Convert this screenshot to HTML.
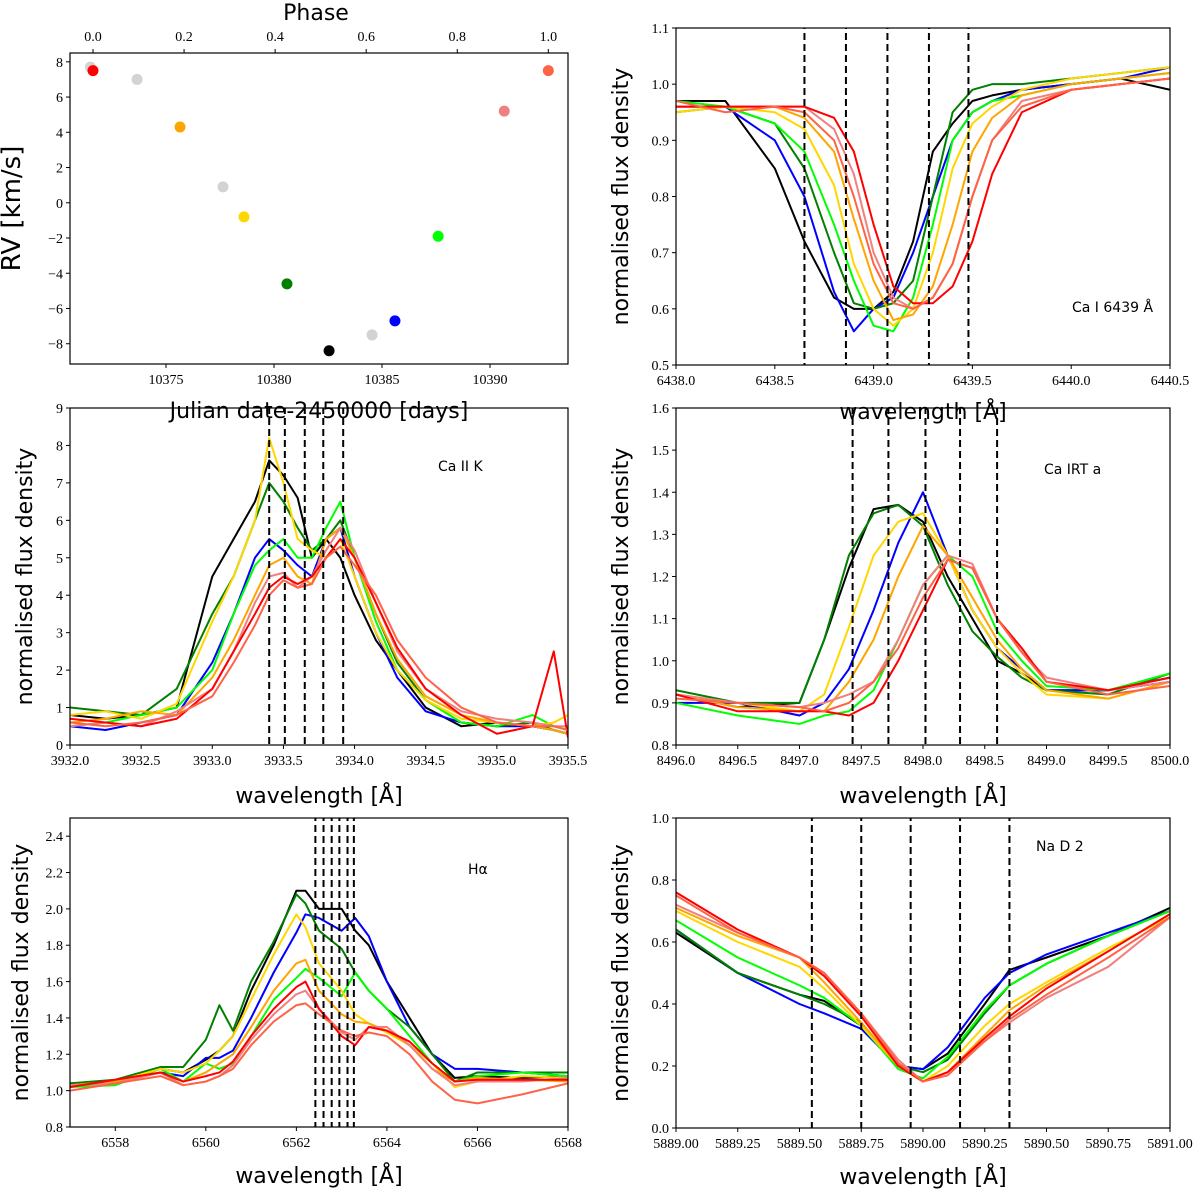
<!DOCTYPE html>
<html><head><meta charset="utf-8"><style>
body{margin:0;background:#fff}
.tk{font-family:"Liberation Serif",serif;font-size:14px}
.lab{font-family:"DejaVu Sans","Liberation Sans",sans-serif;font-size:22px}
.ann{font-family:"DejaVu Sans","Liberation Sans",sans-serif;font-size:14px}
</style></head><body>
<svg id="fig" width="1200" height="1192" xmlns="http://www.w3.org/2000/svg"></svg>
<script>
// ---- RV panel data ----
const rvDays=[10371.5,10371.62,10373.66,10375.65,10377.64,10378.61,10380.6,10382.55,10384.54,10385.6,10387.6,10390.66,10392.7];
const rvVals=[7.7,7.5,7.0,4.3,0.9,-0.8,-4.6,-8.4,-7.5,-6.7,-1.9,5.2,7.5];
const rvColors=["#d3d3d3","red","#d3d3d3","orange","#d3d3d3","gold","green","black","#d3d3d3","blue","lime","lightcoral","tomato"];
const seriesColors=["black","blue","green","lime","gold","orange","lightcoral","red","tomato"];
// ---- Ca I 6439 ----
const caIx=[6438.0,6438.25,6438.5,6438.65,6438.8,6438.9,6439.0,6439.1,6439.2,6439.3,6439.4,6439.5,6439.6,6439.75,6440.0,6440.25,6440.5];
const caIy=[
[.97,.97,.85,.72,.62,.60,.60,.63,.72,.88,.93,.97,.98,.99,1.0,1.01,.99],
[.96,.96,.90,.80,.63,.56,.60,.62,.70,.80,.90,.95,.97,.99,1.0,1.01,1.03],
[.95,.96,.93,.85,.70,.61,.60,.61,.65,.80,.95,.99,1.0,1.0,1.01,1.02,1.03],
[.97,.96,.93,.88,.75,.65,.57,.56,.62,.75,.90,.95,.97,.98,1.0,1.01,1.02],
[.95,.96,.95,.92,.82,.68,.60,.57,.60,.70,.85,.93,.96,.99,1.01,1.02,1.03],
[.96,.96,.96,.94,.88,.76,.65,.58,.59,.64,.75,.88,.94,.98,1.0,1.01,1.02],
[.96,.96,.96,.96,.92,.84,.70,.62,.60,.62,.68,.80,.90,.97,.99,1.0,1.01],
[.96,.96,.96,.96,.94,.88,.75,.64,.61,.61,.64,.72,.84,.95,.99,1.0,1.01],
[.97,.95,.96,.95,.90,.80,.68,.61,.60,.62,.68,.80,.90,.96,.99,1.0,1.01]];
const caIdash=[6438.65,6438.86,6439.07,6439.28,6439.48];
// ---- Ca II K ----
const caKx=[3932.0,3932.25,3932.5,3932.75,3933.0,3933.15,3933.3,3933.4,3933.5,3933.6,3933.7,3933.8,3933.9,3934.0,3934.15,3934.3,3934.5,3934.75,3935.0,3935.25,3935.4,3935.5];
const caKy=[
[0.8,0.7,0.8,1.0,4.5,5.5,6.5,7.6,7.2,6.6,5.0,5.5,5.0,4.0,2.8,2.0,1.0,0.5,0.6,0.5,0.4,0.3],
[0.5,0.4,0.6,0.8,2.2,3.5,5.0,5.5,5.2,4.8,4.5,5.5,5.8,4.5,3.0,1.8,0.9,0.6,0.5,0.5,0.4,0.3],
[1.0,0.9,0.8,1.5,3.5,4.5,6.0,7.0,6.5,5.8,5.2,5.5,6.0,5.0,3.5,2.2,1.2,0.6,0.5,0.6,0.4,0.3],
[0.5,0.6,0.8,1.0,2.0,3.5,4.8,5.2,5.5,5.0,5.0,5.8,6.5,5.0,3.3,2.0,1.2,0.6,0.5,0.8,0.5,0.4],
[0.8,0.9,0.7,1.1,3.3,4.5,6.0,8.2,7.0,5.5,5.2,5.0,5.5,4.5,3.0,2.0,1.2,0.7,0.6,0.5,0.6,0.8],
[0.6,0.7,0.9,0.8,1.8,2.8,4.0,4.8,5.0,4.5,4.3,5.5,5.8,5.0,3.5,2.3,1.3,0.8,0.6,0.5,0.4,0.3],
[0.5,0.6,0.5,0.9,1.5,2.5,3.8,4.5,4.6,4.2,4.5,5.2,5.8,5.2,3.8,2.5,1.5,0.9,0.7,0.6,0.5,0.5],
[0.7,0.6,0.5,0.7,1.5,2.5,3.5,4.2,4.5,4.3,4.5,5.0,5.5,5.0,3.8,2.6,1.5,0.8,0.3,0.5,2.5,0.2],
[0.6,0.5,0.6,0.8,1.3,2.2,3.2,4.0,4.4,4.2,4.3,5.0,5.3,4.8,4.0,2.8,1.8,1.0,0.6,0.5,0.5,0.4]];
const caKdash=[3933.4,3933.51,3933.65,3933.78,3933.92];
// ---- Ca IRT a ----
const irtx=[8496,8496.5,8497.0,8497.2,8497.4,8497.6,8497.8,8498.0,8498.2,8498.4,8498.6,8498.8,8499.0,8499.5,8500];
const irty=[
[.92,.89,.90,1.05,1.22,1.36,1.37,1.33,1.20,1.10,1.00,.97,.93,.93,.96],
[.90,.90,.87,.90,.98,1.12,1.28,1.40,1.25,1.12,1.03,.98,.93,.93,.95],
[.93,.90,.90,1.05,1.25,1.35,1.37,1.32,1.18,1.07,1.01,.96,.93,.92,.97],
[.90,.87,.85,.87,.88,.93,1.05,1.18,1.25,1.20,1.07,1.00,.94,.93,.97],
[.92,.90,.88,.92,1.08,1.25,1.33,1.35,1.25,1.12,1.03,.97,.92,.91,.95],
[.92,.89,.88,.88,.95,1.05,1.20,1.32,1.25,1.15,1.05,.98,.93,.91,.95],
[.92,.90,.89,.90,.92,.95,1.05,1.18,1.25,1.23,1.10,1.02,.96,.93,.95],
[.92,.88,.88,.88,.87,.90,1.00,1.12,1.24,1.22,1.10,1.03,.95,.93,.96],
[.91,.90,.89,.88,.90,.95,1.03,1.15,1.24,1.22,1.10,1.02,.95,.92,.94]];
const irtdash=[8497.43,8497.72,8498.02,8498.3,8498.6];
// ---- H alpha ----
const hax=[6557,6558,6559,6559.5,6560,6560.3,6560.6,6561,6561.5,6562,6562.2,6562.5,6563,6563.3,6563.6,6564,6564.5,6565,6565.5,6566,6567,6568];
const hay=[
[1.03,1.05,1.12,1.10,1.17,1.22,1.30,1.55,1.80,2.10,2.10,2.00,2.00,1.88,1.80,1.60,1.40,1.20,1.07,1.08,1.07,1.08],
[1.04,1.05,1.10,1.08,1.18,1.18,1.22,1.40,1.65,1.87,1.97,1.95,1.88,1.95,1.85,1.60,1.35,1.20,1.12,1.12,1.10,1.08],
[1.04,1.06,1.13,1.13,1.28,1.47,1.33,1.60,1.82,2.08,2.03,1.88,1.78,1.65,1.55,1.45,1.35,1.20,1.05,1.10,1.10,1.10],
[1.02,1.03,1.12,1.05,1.15,1.12,1.15,1.30,1.50,1.62,1.67,1.62,1.52,1.65,1.55,1.45,1.30,1.15,1.05,1.08,1.10,1.08],
[1.03,1.05,1.12,1.10,1.15,1.22,1.30,1.50,1.75,1.97,1.90,1.70,1.55,1.42,1.37,1.32,1.25,1.15,1.02,1.05,1.08,1.07],
[1.03,1.05,1.10,1.05,1.10,1.15,1.20,1.35,1.55,1.70,1.72,1.55,1.42,1.38,1.37,1.33,1.25,1.12,1.05,1.07,1.06,1.05],
[1.03,1.04,1.10,1.03,1.05,1.08,1.14,1.28,1.42,1.53,1.55,1.45,1.32,1.28,1.35,1.35,1.25,1.12,1.03,1.05,1.05,1.07],
[1.02,1.06,1.10,1.05,1.08,1.10,1.16,1.30,1.45,1.57,1.60,1.45,1.30,1.25,1.35,1.33,1.27,1.15,1.05,1.06,1.06,1.06],
[1.00,1.04,1.08,1.03,1.05,1.08,1.12,1.25,1.38,1.47,1.48,1.42,1.33,1.30,1.32,1.30,1.20,1.05,0.95,0.93,0.98,1.04]];
const hadash=[6562.42,6562.6,6562.78,6562.95,6563.13,6563.27];
// ---- Na D2 ----
const nax=[5889.0,5889.25,5889.5,5889.6,5889.75,5889.9,5890.0,5890.1,5890.25,5890.35,5890.5,5890.75,5891.0];
const nay=[
[.63,.50,.43,.41,.33,.20,.19,.24,.40,.51,.55,.62,.71],
[.64,.50,.40,.37,.32,.20,.19,.26,.42,.50,.56,.63,.70],
[.64,.50,.43,.40,.34,.20,.18,.22,.37,.46,.53,.62,.70],
[.67,.55,.46,.42,.33,.19,.16,.23,.38,.46,.53,.62,.70],
[.70,.60,.52,.45,.33,.20,.15,.20,.33,.40,.47,.58,.68],
[.71,.62,.55,.47,.34,.20,.15,.18,.30,.38,.46,.57,.69],
[.72,.63,.55,.50,.37,.22,.15,.18,.28,.34,.42,.52,.68],
[.76,.64,.55,.49,.36,.20,.15,.18,.29,.36,.45,.57,.69],
[.75,.63,.55,.50,.37,.21,.15,.17,.28,.35,.43,.55,.68]];
const nadash=[5889.55,5889.75,5889.95,5890.15,5890.35];

const NS="http://www.w3.org/2000/svg";
const fig=document.getElementById('fig');
function mk(tag,attrs,parent,txt){const e=document.createElementNS(NS,tag);for(const k in attrs)e.setAttribute(k,attrs[k]);if(txt!==undefined)e.textContent=txt;(parent||fig).appendChild(e);return e;}

function panel(o){
  const g=mk('g',{});
  
  
  const sx=v=>o.x0+(v-o.xmin)/(o.xmax-o.xmin)*(o.x1-o.x0);
  const sy=v=>o.y1-(v-o.ymin)/(o.ymax-o.ymin)*(o.y1-o.y0);
  const clipId='c'+o.name;
  const cp=mk('clipPath',{id:clipId},g);mk('rect',{x:o.x0,y:o.y0,width:o.x1-o.x0,height:o.y1-o.y0},cp);
  const plot=mk('g',{'clip-path':'url(#'+clipId+')'},g);
  if(o.draw)o.draw(plot,sx,sy);
  mk('rect',{x:o.x0,y:o.y0,width:o.x1-o.x0,height:o.y1-o.y0,fill:'none',stroke:'#000','stroke-width':1.2},g);
  o.xticks.forEach((t,i)=>{const x=sx(t);mk('line',{x1:x,x2:x,y1:o.y1,y2:o.y1+4,stroke:'#000'},g);
    const tl=mk('text',{x:x,y:o.y1+20,'text-anchor':'middle',class:'tk','font-family':'Liberation Serif, serif'},g,o.xlabels[i]);
    
    });
  o.yticks.forEach((t,i)=>{const y=sy(t);mk('line',{x1:o.x0-4,x2:o.x0,y1:y,y2:y,stroke:'#000'},g);
    const tl=mk('text',{x:o.x0-7,y:y+5,'text-anchor':'end',class:'tk','font-family':'Liberation Serif, serif'},g,o.ylabels[i]);
    
    });
  const xl=mk('text',{x:(o.x0+o.x1)/2,y:o.y1+o.xtoff,'text-anchor':'middle',class:'lab'},g,o.xtitle);
  
  
  const yx=o.x0-o.ytoff,yc=(o.y0+o.y1)/2;
  const yl=mk('text',{x:yx,y:yc,'text-anchor':'middle',class:'lab',transform:`rotate(-90 ${yx} ${yc})`,style:o.ysize?`font-size:${o.ysize}px`:''},g,o.ytitle);
  
  
  if(o.ann){const a=mk('text',{x:o.ann[1],y:o.ann[2],class:'ann'},g,o.ann[0]);
    
    }
  return {g,sx,sy};
}
function spectra(xs,ys,dash){return (p,sx,sy)=>{
  ys.forEach((s,i)=>{const pl=mk('polyline',{points:s.map((v,j)=>sx(xs[j])+','+sy(v)).join(' '),fill:'none',stroke:seriesColors[i],'stroke-width':2,'stroke-linejoin':'round'},p);
    
    });
  dash.forEach(d=>{const l=mk('line',{x1:sx(d),x2:sx(d),y1:0,y2:1200,stroke:'#000','stroke-width':2,'stroke-dasharray':'7,4'},p);
    
    });
};}
function rng(a,b,s){const r=[];for(let v=a;v<=b+1e-9;v+=s)r.push(+v.toFixed(4));return r;}
const fmt=(d)=>v=>{const s=v.toFixed(d);return s.replace('-','\u2212');};

// RV panel
const rv=panel({name:'rv-panel',x0:70,x1:568,y0:53,y1:364,xmin:10375-(166-70)/21.6,xmax:10375+(568-166)/21.6,ymin:-9.15,ymax:8.5,
  xticks:[10375,10380,10385,10390],xlabels:['10375','10380','10385','10390'],
  yticks:rng(-8,8,2),ylabels:rng(-8,8,2).map(fmt(0)),xtitle:'Julian date-2450000 [days]',ytitle:'RV [km/s]',ysize:26,xtoff:54,ytoff:50,
  draw:(p,sx,sy)=>{rvDays.forEach((d,i)=>{const c=mk('circle',{cx:sx(d),cy:sy(rvVals[i]),r:5.5,fill:rvColors[i]},p);
    
    });}});
// phase axis
{const ph0=10371.62,ph1=10392.7;
 [0,0.2,0.4,0.6,0.8,1.0].forEach(ph=>{const x=rv.sx(ph0+ph*(ph1-ph0));mk('line',{x1:x,x2:x,y1:49,y2:53,stroke:'#000'});
  const t=mk('text',{x:x,y:41,'text-anchor':'middle',class:'tk','font-family':'Liberation Serif, serif'},fig,ph.toFixed(1));
  
  });
 const t=mk('text',{x:316,y:20,'text-anchor':'middle',class:'lab'},fig,'Phase');
 
 }

const YT='normalised flux density',XT='wavelength [Å]';
panel({name:'ca-i-6439-panel',x0:676,x1:1170,y0:28,y1:365,xmin:6438,xmax:6440.5,ymin:0.5,ymax:1.1,xtoff:54,ytoff:48,
  xticks:rng(6438,6440.5,0.5),xlabels:rng(6438,6440.5,0.5).map(fmt(1)),yticks:rng(0.5,1.1,0.1),ylabels:rng(0.5,1.1,0.1).map(fmt(1)),
  xtitle:XT,ytitle:YT,ann:['Ca I 6439 Å',1072,312],draw:spectra(caIx,caIy,caIdash)});
panel({name:'ca-ii-k-panel',x0:70,x1:568,y0:408,y1:745,xmin:3932,xmax:3935.5,ymin:0,ymax:9,xtoff:58,ytoff:38,
  xticks:rng(3932,3935.5,0.5),xlabels:rng(3932,3935.5,0.5).map(fmt(1)),yticks:rng(0,9,1),ylabels:rng(0,9,1).map(fmt(0)),
  xtitle:XT,ytitle:YT,ann:['Ca II K',438,471],draw:spectra(caKx,caKy,caKdash)});
panel({name:'ca-irt-a-panel',x0:676,x1:1170,y0:408,y1:745,xmin:8496,xmax:8500,ymin:0.8,ymax:1.6,xtoff:58,ytoff:48,
  xticks:rng(8496,8500,0.5),xlabels:rng(8496,8500,0.5).map(fmt(1)),yticks:rng(0.8,1.6,0.1),ylabels:rng(0.8,1.6,0.1).map(fmt(1)),
  xtitle:XT,ytitle:YT,ann:['Ca IRT a',1044,474],draw:spectra(irtx,irty,irtdash)});
panel({name:'h-alpha-panel',x0:70,x1:568,y0:818,y1:1127,xmin:6557,xmax:6568,ymin:0.8,ymax:2.5,xtoff:56,ytoff:42,
  xticks:rng(6558,6568,2),xlabels:rng(6558,6568,2).map(fmt(0)),yticks:rng(0.8,2.4,0.2),ylabels:rng(0.8,2.4,0.2).map(fmt(1)),
  xtitle:XT,ytitle:YT,ann:['Hα',468,874],draw:spectra(hax,hay,hadash)});
panel({name:'na-d2-panel',x0:676,x1:1170,y0:818,y1:1128,xmin:5889,xmax:5891,ymin:0,ymax:1,xtoff:56,ytoff:48,
  xticks:rng(5889,5891,0.25),xlabels:rng(5889,5891,0.25).map(fmt(2)),yticks:rng(0,1,0.2),ylabels:rng(0,1,0.2).map(fmt(1)),
  xtitle:XT,ytitle:YT,ann:['Na D 2',1036,851],draw:spectra(nax,nay,nadash)});
</script>
</body></html>
